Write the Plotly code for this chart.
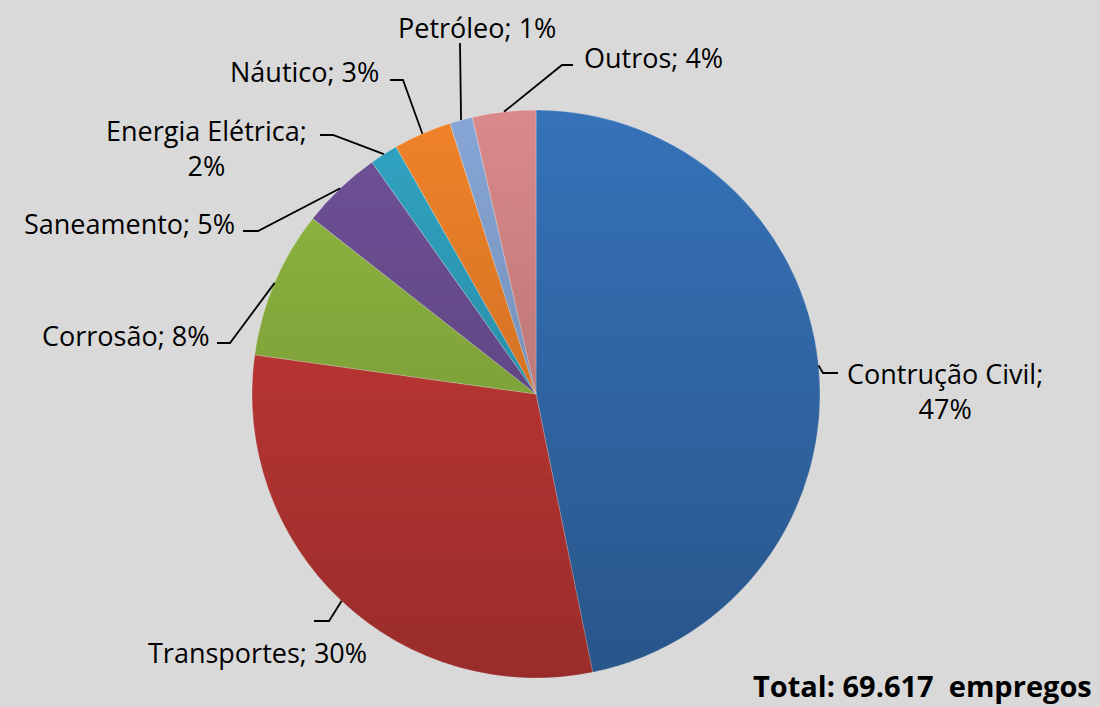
"""Empregos por setor - gráfico de pizza."""

import base64
import math

import plotly.graph_objects as go

# dados (participação em %)
setores = [
    "Contrução Civil",
    "Transportes",
    "Corrosão",
    "Saneamento",
    "Energia Elétrica",
    "Náutico",
    "Petróleo",
    "Outros",
]
participacao = [46.8, 30.4, 8.4, 4.6, 1.6, 3.3, 1.3, 3.6]
total_empregos = "69.617"

cores = ["#3672B8", "#CC3B38", "#91B941", "#6F5198", "#30A4C2", "#F18329", "#87A6D6", "#DA8989"]

# geometria da página (px)
W, H = 1100, 707
ML, MR, MT, MB = 252, 280, 110, 29
PW = W - ML - MR
PH = H - MT - MB
CX, CY = ML + PW / 2, MT + PH / 2
R = min(PW, PH) / 2

# posição dos rótulos: (cotovelo, fim do traço, texto x, texto y, âncora, quebra de linha)
rotulos = [
    ((823, 373), (838, 373), 945, 391, "center", True),
    ((329, 621), (314, 621), 257, 652, "center", False),
    ((230, 343), (217, 343), 212, 335, "right", False),
    ((258, 231), (243, 231), 237, 223, "right", False),
    ((333, 135), (320, 135), 206, 148, "center", True),
    ((403, 80), (390, 80), 381, 72, "right", False),
    ((460, 43), (460, 43), 477, 27, "center", False),
    ((562, 65), (573, 65), 582, 58, "left", False),
]

FONTE = "Open Sans"


def px(x):
    return (x - ML) / PW


def py(y):
    return (H - MB - y) / PH


fig = go.Figure(
    go.Pie(
        labels=setores,
        values=participacao,
        sort=False,
        direction="clockwise",
        rotation=0,
        textinfo="none",
        hoverinfo="label+percent",
        marker=dict(colors=cores, line=dict(color="rgba(255,255,255,0.45)", width=0.6)),
        showlegend=False,
    )
)

# gradiente (estilo Excel): círculo escurecendo de cima para baixo
svg = (
    "<svg xmlns='http://www.w3.org/2000/svg' width='200' height='200' viewBox='0 0 200 200'>"
    "<defs><linearGradient id='g' x1='0' y1='0' x2='0' y2='1'>"
    "<stop offset='0' stop-color='black' stop-opacity='0'/>"
    "<stop offset='1' stop-color='black' stop-opacity='0.25'/>"
    "</linearGradient></defs>"
    "<circle cx='100' cy='100' r='100' fill='url(#g)'/></svg>"
)
fig.add_layout_image(
    source="data:image/svg+xml;base64," + base64.b64encode(svg.encode()).decode(),
    xref="paper", yref="paper", x=0, y=1, sizex=1, sizey=1,
    xanchor="left", yanchor="top", sizing="stretch", layer="above",
)

soma = sum(participacao)
acum = 0.0
for nome, valor, (cot, fim, tx, ty, anc, quebra) in zip(setores, participacao, rotulos):
    meio = (acum + valor / 2) / soma * 2 * math.pi
    acum += valor
    x0 = CX + R * math.sin(meio)
    y0 = CY - R * math.cos(meio)
    caminho = f"M {px(x0)},{py(y0)} L {px(cot[0])},{py(cot[1])} L {px(fim[0])},{py(fim[1])}"
    fig.add_shape(
        type="path", path=caminho, xref="paper", yref="paper",
        line=dict(color="black", width=1.8),
    )
    pct = f"{round(valor / soma * 100)}%"
    texto = f"{nome};<br>{pct}" if quebra else f"{nome}; {pct}"
    fig.add_annotation(
        x=px(tx), y=py(ty), xref="paper", yref="paper",
        text=texto, showarrow=False, xanchor=anc, yanchor="middle",
        align="center", font=dict(family=FONTE, size=27, color="black"),
    )

fig.add_annotation(
    x=px(1094), y=py(685), xref="paper", yref="paper",
    text=f"<b>Total: {total_empregos}\u00a0 empregos</b>", showarrow=False,
    xanchor="right", yanchor="middle", font=dict(family=FONTE, size=29, color="black"),
)

fig.update_layout(
    width=W,
    height=H,
    margin=dict(l=ML, r=MR, t=MT, b=MB),
    paper_bgcolor="#D9D9D9",
    plot_bgcolor="#D9D9D9",
)

fig.write_html(
    "out.html",
    config={"displayModeBar": False},
    post_script="document.body.style.margin='0';document.body.style.overflow='hidden';",
)
